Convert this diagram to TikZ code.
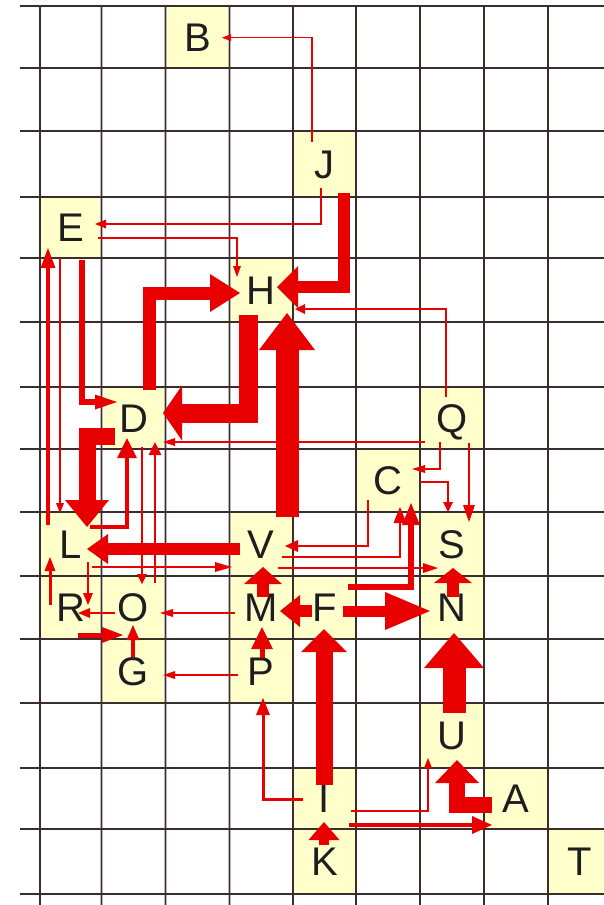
\documentclass[tikz,border=0pt]{standalone}
\usepackage{fontspec}
\setmainfont{Liberation Sans}
\usetikzlibrary{arrows.meta}
\definecolor{ered}{RGB}{232,0,0}
\definecolor{cellyel}{RGB}{255,255,204}
\definecolor{gridc}{RGB}{60,45,45}
\definecolor{gridh}{RGB}{190,182,182}
\definecolor{txtc}{RGB}{30,30,30}
\pgfdeclarelayer{gridl}
\pgfdeclarelayer{edges}
\pgfsetlayers{main,gridl,edges}
\tikzset{
  cell/.style 2 args={fill=cellyel, minimum width=#1pt, minimum height=#2pt, inner sep=0pt,
    text height=28.6pt, text depth=0pt, text=txtc, font=\fontsize{40}{40}\selectfont},
  gridhalo/.style={draw=gridh, line width=2.6pt},
  gridcore/.style={draw=gridc, line width=1.1pt},
  edg/.style n args={3}{draw=ered, line width=#1pt, line join=miter,
    -{Triangle[length=#2pt,width=#3pt,line width=0pt]}}
}
\begin{document}
\begin{tikzpicture}[x=1pt,y=-1pt]
\useasboundingbox (0,0) rectangle (604,905);
\fill[white] (0,0) rectangle (604,905);
% cells
\node[cell={64}{62}]   (B) at (197.5,37) {B};
\node[cell={63}{66}]   (J) at (324.5,164) {J};
\node[cell={61.5}{61}] (E) at (70.75,227.5) {E};
\node[cell={63.5}{64}] (H) at (261.25,290) {H};
\node[cell={64}{62}]   (D) at (133.5,418) {D};
\node[cell={64}{62}]   (Q) at (452,418) {Q};
\node[cell={64}{63}]   (C) at (388,480.5) {C};
\node[cell={61.5}{64}] (L) at (70.75,544) {L};
\node[cell={63.5}{64}] (V) at (261.25,544) {V};
\node[cell={64}{64}]   (S) at (452,544) {S};
\node[cell={61.5}{63}] (R) at (70.75,607.5) {R};
\node[cell={64}{63}]   (O) at (133.5,607.5) {O};
\node[cell={63.5}{63}] (M) at (261.25,607.5) {M};
\node[cell={63}{63}]   (F) at (324.5,607.5) {F};
\node[cell={64}{63}]   (N) at (452,607.5) {N};
\node[cell={64}{64}]   (G) at (133.5,671) {G};
\node[cell={63.5}{64}] (P) at (261.25,671) {P};
\node[cell={64}{65}]   (U) at (452,735.5) {U};
\node[cell={63}{61}]   (I) at (324.5,798.5) {I};
\node[cell={64}{61}]   (A) at (516,798.5) {A};
\node[cell={63}{65}]   (K) at (324.5,861.5) {K};
\node[cell={64}{65}]   (T) at (580,861.5) {T};
% grid
\begin{pgfonlayer}{gridl}
\foreach \x in {40,101.5,165.5,229.5,293,356,420,484,548} \draw[gridhalo] (\x,6) -- (\x,905);
\foreach \y in {6,68,131,197,258,322,387,449,512,576,639,703,768,829,894} \draw[gridhalo] (20,\y) -- (604,\y);
\foreach \x in {40,101.5,165.5,229.5,293,356,420,484,548} \draw[gridcore] (\x,6) -- (\x,905);
\foreach \y in {6,68,131,197,258,322,387,449,512,576,639,703,768,829,894} \draw[gridcore] (20,\y) -- (604,\y);
\end{pgfonlayer}
% edges
\begin{pgfonlayer}{edges}
\draw[edg={1.2}{9}{7}] ([shift={(-12.5,-22)}]J.center) |- ([shift={(24.5,0.7)}]B.center);
\draw[edg={2}{11}{9}] ([shift={(-3.5,24)}]J.center) |- ([shift={(24.25,-3.5)}]E.center);
\draw[edg={1.6}{11}{8}] ([shift={(27.25,10.5)}]E.center) -| ([shift={(-24.25,-13)}]H.center);
\draw[edg={12}{21}{42}] ([shift={(19.5,29)}]J.center) |- ([shift={(15.75,-3)}]H.center);
\draw[edg={13}{30}{38}] ([shift={(15.5,-28)}]D.center) |- ([shift={(-21.25,3)}]H.center);
\draw[edg={19}{19}{55}] ([shift={(-13.25,25)}]H.center) |- ([shift={(29.5,-5)}]D.center);
\draw[edg={23}{37}{56}] ([shift={(25.75,-27)}]V.center) -- ([shift={(25.75,23)}]H.center);
\draw[edg={2.5}{10}{10}] ([shift={(-6,-21)}]Q.center) |- ([shift={(33.75,19)}]H.center);
\draw[edg={5.5}{22}{15}] ([shift={(11.25,32.5)}]E.center) |- ([shift={(-16.5,-16)}]D.center);
\draw[edg={4}{20}{15}] ([shift={(-22.75,-19)}]L.center) -- ([shift={(-22.75,20.5)}]E.center);
\draw[edg={1.5}{10}{8}] ([shift={(-10.75,30.5)}]E.center) -- ([shift={(-10.75,-31)}]L.center);
\draw[edg={17}{27}{44}] ([shift={(-18.5,18)}]D.center) -| ([shift={(16.25,-17)}]L.center);
\draw[edg={4.5}{20}{20}] ([shift={(19.25,-17)}]L.center) -| ([shift={(-6.5,20)}]D.center);
\draw[edg={1.5}{10}{10}] ([shift={(8.5,29)}]D.center) -- ([shift={(8.5,-23.5)}]O.center);
\draw[edg={2}{13}{13}] ([shift={(21.5,-24.5)}]O.center) -- ([shift={(21.5,24)}]D.center);
\draw[edg={1.5}{12}{8}] ([shift={(-27,24)}]Q.center) -- ([shift={(29.5,24)}]D.center);
\draw[edg={3}{14}{11}] ([shift={(-20.75,-2.5)}]R.center) -- ([shift={(-20.75,13)}]L.center);
\draw[edg={1.5}{12}{10}] ([shift={(17.25,18)}]L.center) -- ([shift={(17.25,-2.5)}]R.center);
\draw[edg={2}{12}{10}] ([shift={(-18.5,5.5)}]O.center) -- ([shift={(7.25,5.5)}]R.center);
\draw[edg={5}{21}{16}] ([shift={(7.25,27.5)}]R.center) -- ([shift={(-10.5,27.5)}]O.center);
\draw[edg={4}{15}{13}] ([shift={(-0.5,-14)}]G.center) -- ([shift={(-0.5,17.5)}]O.center);
\draw[edg={1.5}{13}{8}] ([shift={(-26.25,5.5)}]M.center) -- ([shift={(26.5,5.5)}]O.center);
\draw[edg={1.5}{12}{8}] ([shift={(-23.25,4)}]P.center) -- ([shift={(29.5,4)}]G.center);
\draw[edg={5}{22}{22}] ([shift={(0.75,-13)}]P.center) -- ([shift={(0.75,19.5)}]M.center);
\draw[edg={3}{17}{14}] ([shift={(-21.5,0.5)}]I.center) -| ([shift={(1.75,27)}]P.center);
\draw[edg={17}{23}{46}] ([shift={(-0.5,-13.5)}]I.center) -- ([shift={(-0.5,21.5)}]F.center);
\draw[edg={10}{18}{31}] ([shift={(-0.5,-16.5)}]K.center) -- ([shift={(-0.5,23.5)}]I.center);
\draw[edg={12}{20}{32}] ([shift={(-12.5,3.5)}]F.center) -- ([shift={(18.75,3.5)}]M.center);
\draw[edg={12}{17}{38}] ([shift={(1.75,-10.5)}]M.center) -- ([shift={(1.75,23)}]V.center);
\draw[edg={11}{45}{38}] ([shift={(18.5,3.5)}]F.center) -- ([shift={(-22,3.5)}]N.center);
\draw[edg={6.5}{22}{18}] ([shift={(23.5,-20.5)}]F.center) -| ([shift={(23,22.5)}]C.center);
\draw[edg={2}{16}{13}] ([shift={(20.75,13)}]V.center) -| ([shift={(12,26.5)}]C.center);
\draw[edg={2.5}{13}{12}] ([shift={(-20,19.5)}]C.center) |- ([shift={(23.75,2)}]V.center);
\draw[edg={2}{15}{10}] ([shift={(16.75,24)}]V.center) -- ([shift={(-14,24)}]S.center);
\draw[edg={2.5}{17}{10}] ([shift={(21.25,23)}]L.center) -- ([shift={(-29.25,23)}]V.center);
\draw[edg={12}{21}{30}] ([shift={(-21.25,5)}]V.center) -- ([shift={(16.25,5)}]L.center);
\draw[edg={12}{15}{38}] ([shift={(1,-10.5)}]N.center) -- ([shift={(1,24)}]S.center);
\draw[edg={23}{35}{60}] ([shift={(2,-22.5)}]U.center) -- ([shift={(2,25.5)}]N.center);
\draw[edg={16}{23}{44}] ([shift={(-24,6.5)}]A.center) -| ([shift={(5,24.5)}]U.center);
\draw[edg={1.5}{10}{8}] ([shift={(26.5,12.5)}]I.center) -| ([shift={(-24,22.5)}]U.center);
\draw[edg={4}{20}{18}] ([shift={(24.5,26.5)}]I.center) -- ([shift={(-24,26.5)}]A.center);
\draw[edg={2}{13}{8}] ([shift={(-12,24)}]Q.center) |- ([shift={(24,-11.5)}]C.center);
\draw[edg={1.5}{10}{10}] ([shift={(32,1.5)}]C.center) -| ([shift={(-4,-32)}]S.center);
\draw[edg={2.5}{17}{12}] ([shift={(17,25)}]Q.center) -- ([shift={(17,-22)}]S.center);
\end{pgfonlayer}
\end{tikzpicture}
\end{document}
